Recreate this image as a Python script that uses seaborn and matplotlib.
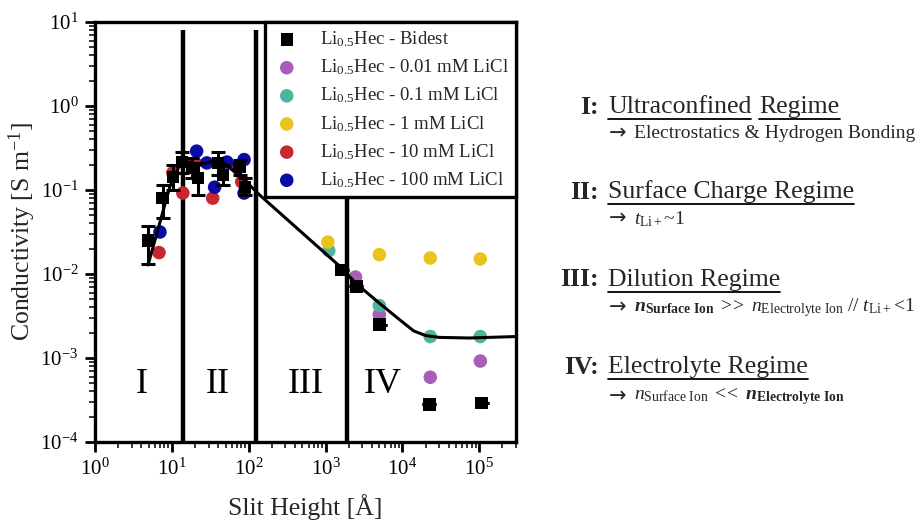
import numpy as np
import pandas as pd
import matplotlib
matplotlib.use("Agg")
import matplotlib.pyplot as plt
import seaborn as sns
from matplotlib.lines import Line2D
from matplotlib.ticker import LogLocator, NullFormatter

# ---------------- data ----------------
bidest_x = [4.9, 7.6, 10.3, 13.5, 18.2, 21.8, 39.5, 46, 76, 89, 1620, 2520, 5040, 22400, 107000]
bidest_y = [0.025, 0.080, 0.143, 0.216, 0.183, 0.139, 0.21, 0.15, 0.188, 0.109, 0.0112, 0.0071, 0.0025, 0.00028, 0.00029]
bidest_lo = [0.013, 0.047, 0.10, 0.16, 0.14, 0.087, 0.15, 0.115, 0.15, 0.087, 0.0112, 0.0071, 0.0025, 0.00028, 0.00029]
bidest_hi = [0.037, 0.115, 0.20, 0.28, 0.24, 0.21, 0.28, 0.20, 0.23, 0.14, 0.0112, 0.0071, 0.0025, 0.00028, 0.00029]

purple_x = [2450, 5000, 23000, 103000]
purple_y = [0.0092, 0.0033, 0.00059, 0.00092]
teal_x = [1100, 5000, 23000, 103000]
teal_y = [0.019, 0.0042, 0.0018, 0.0018]
yellow_x = [1070, 5000, 23000, 103000]
yellow_y = [0.024, 0.017, 0.0155, 0.0151]
red_x = [6.8, 10.3, 13.9, 20, 34, 72, 81]
red_y = [0.018, 0.16, 0.092, 0.21, 0.080, 0.19, 0.125]
blue_x = [7.0, 21, 28.5, 36, 52, 87, 87]
blue_y = [0.0316, 0.29, 0.21, 0.108, 0.215, 0.23, 0.092]

model_x = [4.9, 9.4, 13.5, 23, 42, 89, 139, 1620, 2450, 5000, 9000, 14000, 20000, 30000, 74000, 295000]
model_y = [0.0128, 0.109, 0.227, 0.20, 0.23, 0.13, 0.087, 0.0118, 0.0078, 0.0045, 0.0029, 0.0021, 0.00185, 0.00176, 0.00173, 0.0018]

region_bounds = [14, 124, 1880]
region_labels = ["I", "II", "III", "IV"]
region_label_x = [4.0, 40, 560, 5600]

series_labels = [r"Li$_{0.5}$Hec - Bidest", r"Li$_{0.5}$Hec - 0.01 mM LiCl", r"Li$_{0.5}$Hec - 0.1 mM LiCl",
                 r"Li$_{0.5}$Hec - 1 mM LiCl", r"Li$_{0.5}$Hec - 10 mM LiCl", r"Li$_{0.5}$Hec - 100 mM LiCl"]
series_colors = ["#000000", "#a85db8", "#4fb3a2", "#e9c41c", "#c9272f", "#0b0ca6"]

# ---------------- style ----------------
sns.set_theme(style="white")
plt.rcParams["font.family"] = ["Liberation Serif", "DejaVu Serif"]
plt.rcParams["axes.unicode_minus"] = False
plt.rcParams["mathtext.fontset"] = "custom"
plt.rcParams["mathtext.rm"] = "Liberation Serif"
plt.rcParams["mathtext.it"] = "Liberation Serif:italic"
plt.rcParams["mathtext.bf"] = "Liberation Serif:bold"
try:
    plt.rcParams["mathtext.bfit"] = "Liberation Serif:italic:bold"
except Exception:
    pass

W, H = 922, 523
fig = plt.figure(figsize=(W / 100, H / 100), dpi=100)
ax = fig.add_axes([95 / W, 1 - 442 / H, (516 - 95) / W, (442 - 22) / H])
ax.set_xscale("log")
ax.set_yscale("log")
ax.set_xlim(1, 3e5)
ax.set_ylim(1e-4, 10)

# regime boundaries
ax.vlines(region_bounds, 1e-4, 8, color="black", lw=3.2, zorder=1)

# colored series
order = [(purple_x, purple_y), (teal_x, teal_y), (yellow_x, yellow_y), (red_x, red_y), (blue_x, blue_y)]
for (xs, ys), lab, col in zip(order, series_labels[1:], series_colors[1:]):
    sns.scatterplot(x=xs, y=ys, color=col, s=95, edgecolor="none", marker="o",
                    label=lab, ax=ax, zorder=2)

# model line
sns.lineplot(x=model_x, y=model_y, color="black", lw=2.2, ax=ax, zorder=3, legend=False, sort=False)

# bidest with error bars
by = np.array(bidest_y)
yerr = np.vstack([by - np.array(bidest_lo), np.array(bidest_hi) - by])
ax.errorbar(bidest_x, bidest_y, yerr=yerr, fmt="none", ecolor="black", elinewidth=2.2,
            capsize=5, capthick=2.2, zorder=4)
sns.scatterplot(x=bidest_x, y=bidest_y, color="black", s=80, marker="s", edgecolor="none",
                label=series_labels[0], ax=ax, zorder=5)

# regime labels
for lx, lab in zip(region_label_x, region_labels):
    ax.text(lx, 4.8e-4, lab, fontsize=26, ha="center", va="center", color="black")

# axes styling
for sp in ax.spines.values():
    sp.set_linewidth(2.4)
    sp.set_color("black")
ax.xaxis.set_major_locator(LogLocator(base=10, numticks=20))
ax.xaxis.set_minor_locator(LogLocator(base=10, subs=np.arange(2, 10), numticks=20))
ax.yaxis.set_major_locator(LogLocator(base=10, numticks=20))
ax.yaxis.set_minor_locator(LogLocator(base=10, subs=np.arange(2, 10), numticks=20))
ax.xaxis.set_minor_formatter(NullFormatter())
ax.yaxis.set_minor_formatter(NullFormatter())
ax.tick_params(which="major", direction="out", length=7, width=2, labelsize=15, colors="black",
               bottom=True, left=True, pad=5)
ax.tick_params(which="minor", direction="out", length=4, width=1.3, bottom=True, left=True)
ax.set_xlabel("Slit Height [Å]", fontsize=18.5, labelpad=10)
ax.set_ylabel(r"Conductivity [S m$^{-1}$]", fontsize=18.5)
ax.yaxis.set_label_coords(-0.135, 0.5)

# legend
handles, labels = ax.get_legend_handles_labels()
hmap = dict(zip(labels, handles))
leg = ax.legend([hmap[l] for l in series_labels], series_labels, loc="upper right",
                bbox_to_anchor=(1.0, 1.0), borderaxespad=0, fontsize=13.5, frameon=True,
                fancybox=False, framealpha=1, edgecolor="black", handletextpad=1.0,
                labelspacing=0.45, borderpad=0.4, handlelength=1.5)
leg.get_frame().set_linewidth(2.4)
leg.set_zorder(10)

# ---------------- right-hand annotations ----------------
def fx(px):
    return px / W

def fy(py):
    return 1 - py / H

title_fs = 18.5
sub_fs = 14
blocks = [
    ("I:", ["Ultraconfined", "Regime"], "Electrostatics & Hydrogen Bonding", 107, 134),
    ("II:", ["Surface Charge Regime"], r"$\mathit{t}_{\mathrm{Li+}}$~1", 192, 219),
    ("III:", ["Dilution Regime"],
     r"$\mathbfit{n}_{\mathbf{Surface\ Ion}}\ >\!\!>\ \mathit{n}_{\mathrm{Electrolyte\ Ion}}\ //\ \mathit{t}_{\mathrm{Li+}}\!<\!1$",
     280, 308),
    ("IV:", ["Electrolyte Regime"],
     r"$\mathit{n}_{\mathrm{Surface\ Ion}}\ <\!\!<\ \mathbfit{n}_{\mathbf{Electrolyte\ Ion}}$",
     367, 397),
]

fig.canvas.draw()
renderer = fig.canvas.get_renderer()
for num, words, sub, ty, sy in blocks:
    fig.text(fx(599), fy(ty), num, fontsize=title_fs, fontweight="bold", ha="right", va="center")
    xpos = 608
    for w in words:
        t = fig.text(fx(xpos), fy(ty), w, fontsize=title_fs, ha="left", va="center")
        bb = t.get_window_extent(renderer=renderer)
        y_line = bb.y0 - 1
        fig.add_artist(Line2D([bb.x0 / W, bb.x1 / W], [y_line / H, y_line / H],
                              transform=fig.transFigure, color="black", lw=1.3))
        xpos = bb.x1 + 8
    fig.text(fx(609), fy(sy - 1), "→", fontsize=15, family="DejaVu Sans", ha="left", va="center")
    fig.text(fx(634), fy(sy), sub, fontsize=sub_fs, ha="left", va="center")

fig.savefig("out.png", dpi=100)
